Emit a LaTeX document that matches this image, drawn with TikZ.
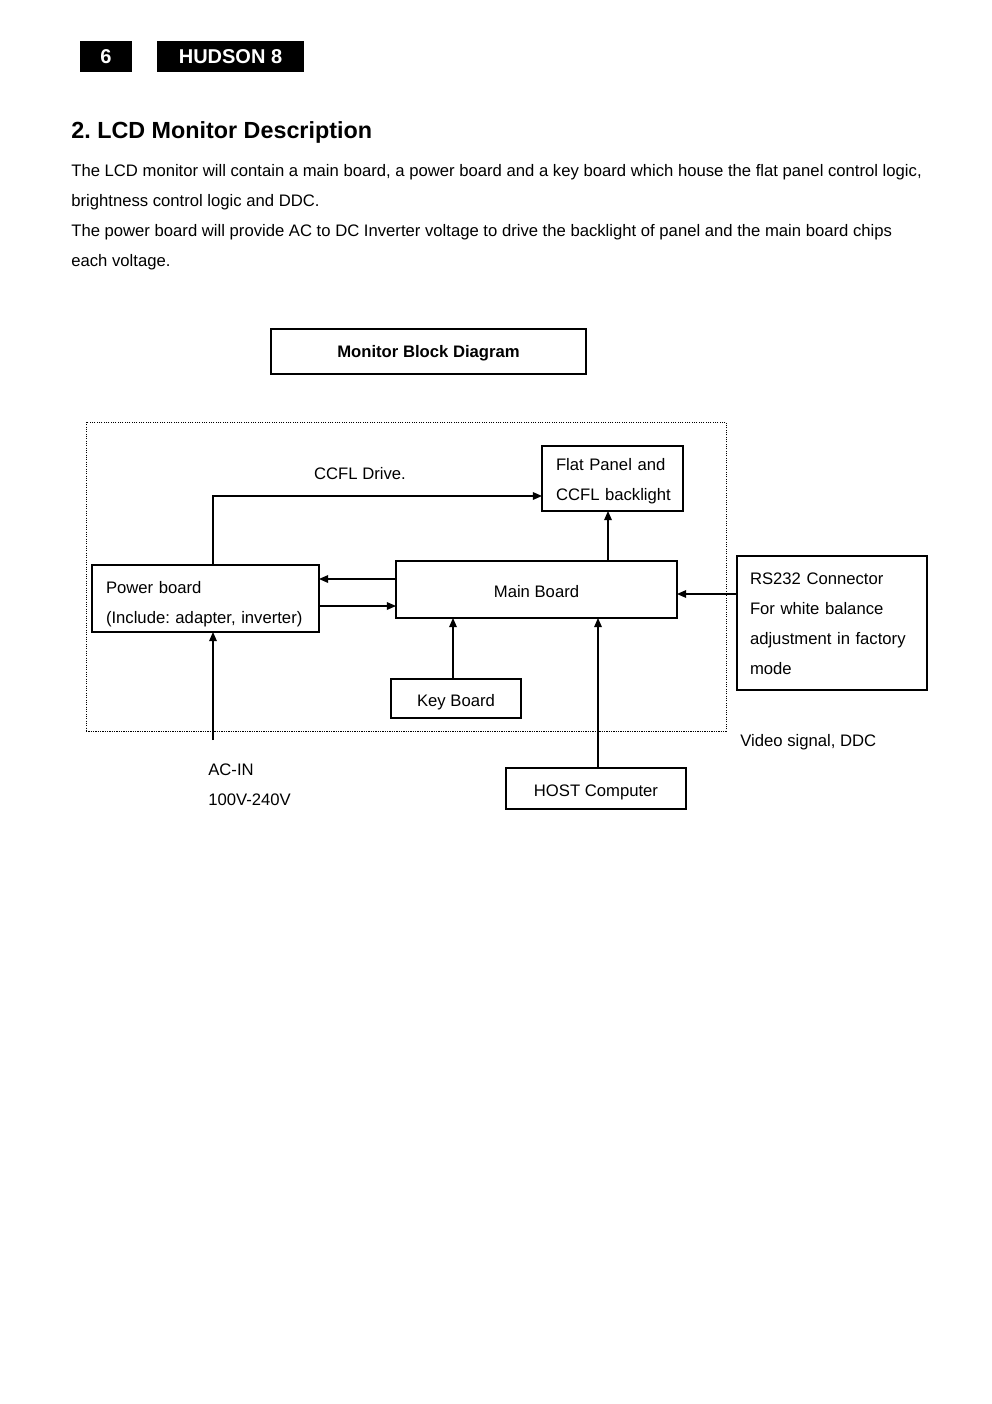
\documentclass[tikz,border=0pt]{standalone}
\usepackage{fontspec}
\setmainfont{Liberation Sans}
\usetikzlibrary{arrows.meta}
\frenchspacing
\begin{document}
\begin{tikzpicture}[x=0.6pt,y=-0.6pt,
  box/.style={draw, line width=0.9pt, inner sep=0pt, outer sep=0pt, font=\fontsize{10}{18}\selectfont},
  sbox/.style={box, text height=9pt, text depth=0pt},
  mbox/.style={box, align=left, inner xsep=#1*0.6pt},
  arr/.style={-{Triangle[length=5.5pt,width=4.6pt]}, line width=0.75pt},
  txt/.style={inner sep=0pt, font=\fontsize{10}{18}\selectfont},
  hdr/.style={fill=black, text=white, inner sep=0pt, font=\fontsize{12}{14}\selectfont\bfseries}]
\useasboundingbox (0,0) rectangle (992,1404);
% header
\node[hdr, minimum width={52*0.6pt}, minimum height={31*0.6pt}] (pg) at (106,56.5) {6};
\node[hdr, minimum width={147*0.6pt}, minimum height={31*0.6pt}] (hd) at (230.5,56.5) {HUDSON 8};
% title and text
\node[txt, anchor=base west, font=\fontsize{14}{16}\selectfont\bfseries] (title) at (71,139) {2. LCD Monitor Description};
\node[txt, anchor=base west] (l1) at (71,176) {The LCD monitor will contain a main board, a power board and a key board which house the flat panel control logic,};
\node[txt, anchor=base west] (l2) at (71,206) {brightness control logic and DDC.};
\node[txt, anchor=base west] (l3) at (71,236) {The power board will provide AC to DC Inverter voltage to drive the backlight of panel and the main board chips};
\node[txt, anchor=base west] (l4) at (71,266) {each voltage.};
% diagram title
\node[box, text height=7.4pt, text depth=0pt, font=\fontsize{10}{12}\selectfont\bfseries, minimum width={315*0.6pt}, minimum height={45*0.6pt}] (mbd) at (428.5,351.5) {Monitor Block Diagram};
% dotted frame
\node[draw, line width=0.6pt, dash pattern=on 0.7pt off 0.7pt, inner sep=0pt, minimum width={640*0.6pt}, minimum height={309*0.6pt}] (frame) at (406,576.5) {};
% boxes
\node[mbox=14, text width={113*0.6pt}, minimum height={65*0.6pt}] (fp) at (612.5,478.5) {\rule{0pt}{9.9pt}\mbox{Flat Panel and}\\\mbox{CCFL backlight}};
\node[mbox=14, text width={199*0.6pt}, minimum height={67*0.6pt}] (pb) at (205.5,598.5) {\rule{0pt}{13.5pt}\mbox{Power board}\\\mbox{(Include: adapter, inverter)}};
\node[sbox, minimum width={281*0.6pt}, minimum height={57*0.6pt}] (mb) at (536.5,589.5) {Main Board};
\node[mbox=13, text width={164*0.6pt}, minimum height={134*0.6pt}] (rs) at (832,623) {\rule{0pt}{7.9pt}\mbox{RS232 Connector}\\\mbox{For white balance}\\\mbox{adjustment in factory}\\\mbox{mode}};
\node[sbox, minimum width={130*0.6pt}, minimum height={39*0.6pt}] (kb) at (456,698.5) {Key Board};
\node[sbox, minimum width={180*0.6pt}, minimum height={41*0.6pt}] (hc) at (596,788.5) {HOST Computer};
% labels
\node[txt] (ccfl) at (360,474) {CCFL Drive.};
\node[txt, anchor=base west] (vs) at (740,746) {Video signal, DDC};
\node[txt, anchor=base west] (ac1) at (208,775) {AC-IN};
\node[txt, anchor=base west] (ac2) at (208,805) {100V-240V};
% helper coordinates
\coordinate (acin) at (213,740);
\coordinate (cy) at (0,496);
\coordinate (y1) at (0,579);
\coordinate (y2) at (0,606);
\coordinate (y3) at (0,594);
\coordinate (x1) at (608,0);
\coordinate (x2) at (453,0);
\coordinate (x3) at (598,0);
% connectors
\draw[arr] (acin) -- (acin |- pb.south);
\draw[arr] (acin |- pb.north) |- (cy -| fp.west);
\draw[arr] (y1 -| mb.west) -- (y1 -| pb.east);
\draw[arr] (y2 -| pb.east) -- (y2 -| mb.west);
\draw[arr] (x1 |- mb.north) -- (x1 |- fp.south);
\draw[arr] (x2 |- kb.north) -- (x2 |- mb.south);
\draw[arr] (x3 |- hc.north) -- (x3 |- mb.south);
\draw[arr] (y3 -| rs.west) -- (y3 -| mb.east);
\end{tikzpicture}
\end{document}
